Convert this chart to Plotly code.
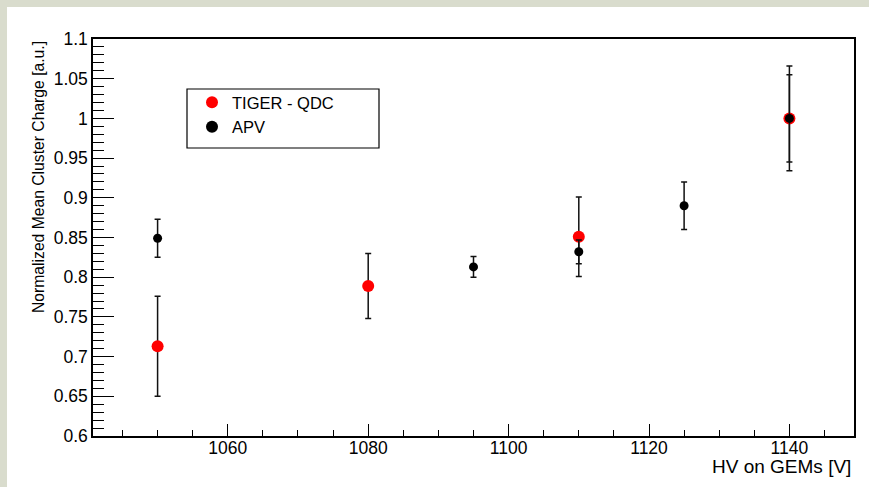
import plotly.graph_objects as go

# ---- data ----
tiger_hv = [1050, 1080, 1110, 1140]
tiger_q = [0.713, 0.789, 0.851, 1.000]
tiger_err = [0.063, 0.041, 0.050, 0.066]

apv_hv = [1050, 1095, 1110, 1125, 1140]
apv_q = [0.849, 0.813, 0.832, 0.890, 1.000]
apv_err = [0.024, 0.013, 0.015, 0.030, 0.055]

y_ticks = [0.6, 0.65, 0.7, 0.75, 0.8, 0.85, 0.9, 0.95, 1.0, 1.05, 1.1]
y_tick_labels = ["0.6", "0.65", "0.7", "0.75", "0.8", "0.85", "0.9", "0.95", "1", "1.05", "1.1"]
x_ticks = [1060, 1080, 1100, 1120, 1140]
x_tick_labels = ["1060", "1080", "1100", "1120", "1140"]

W, H = 869, 487
L, R, T, B = 93, 15, 39, 51
pw, ph = W - L - R, H - T - B

def px_x(p):
    return (p - L) / pw

def px_y(p):
    return (H - B - p) / ph

FONT = "Liberation Sans, Arial, Helvetica, sans-serif"

fig = go.Figure()
fig.add_trace(go.Scatter(
    x=tiger_hv, y=tiger_q, mode="markers", name="TIGER - QDC",
    marker=dict(color="#ff0000", size=12, symbol="circle"),
    error_y=dict(type="data", array=tiger_err, color="#111111", thickness=1.5, width=3),
))
fig.add_trace(go.Scatter(
    x=apv_hv, y=apv_q, mode="markers", name="APV",
    marker=dict(color="#000000", size=9, symbol="circle"),
    error_y=dict(type="data", array=apv_err, color="#111111", thickness=1.5, width=3),
))

axis_common = dict(showgrid=False, zeroline=False, showline=True, linecolor="black",
                   linewidth=1.5, mirror=True, ticks="inside", tickcolor="black",
                   tickwidth=1.2, tickfont=dict(family=FONT, size=17.5, color="black"))

fig.update_xaxes(range=[1040.8, 1149.2], tickmode="array", tickvals=x_ticks,
                 ticktext=x_tick_labels, ticklen=12, ticklabelstandoff=-5,
                 minor=dict(dtick=5, tick0=1000, ticklen=6, ticks="inside",
                            tickcolor="black", tickwidth=1.2),
                 **axis_common)
fig.update_yaxes(range=[0.6, 1.1], tickmode="array", tickvals=y_ticks,
                 ticktext=y_tick_labels, ticklen=21,
                 minor=dict(dtick=0.01, tick0=0, ticklen=11, ticks="inside",
                            tickcolor="black", tickwidth=1.2),
                 **axis_common)

shapes = [
    dict(type="rect", xref="paper", yref="paper", layer="below",
         x0=px_x(7), x1=px_x(W + 5), y0=px_y(H + 5), y1=px_y(7),
         fillcolor="white", line=dict(width=0)),
    dict(type="rect", xref="paper", yref="paper", layer="below",
         x0=px_x(187), x1=px_x(379), y0=px_y(148), y1=px_y(89),
         fillcolor="white", line=dict(color="black", width=1.2)),
]

annotations = [
    dict(text="Normalized Mean Cluster Charge [a.u.]", xref="paper", yref="paper",
         x=px_x(38), y=px_y(39), xanchor="center", yanchor="top", textangle=-90,
         showarrow=False, font=dict(family=FONT, size=15.7, color="black")),
    dict(text="HV on GEMs [V]", xref="paper", yref="paper",
         x=px_x(853), y=px_y(454), xanchor="right", yanchor="top",
         showarrow=False, font=dict(family=FONT, size=19, color="black")),
]

fig.update_layout(
    width=W, height=H,
    margin=dict(l=L, r=R, t=T, b=B, pad=0),
    paper_bgcolor="#d9dccd", plot_bgcolor="white",
    shapes=shapes, annotations=annotations,
    showlegend=True,
    legend=dict(x=px_x(192), y=px_y(85), xanchor="left", yanchor="top",
                bgcolor="rgba(0,0,0,0)", borderwidth=0,
                font=dict(family=FONT, size=16.5, color="black"),
                itemsizing="constant", tracegroupgap=0),
)

fig.write_html(
    "out.html",
    config={"displayModeBar": False},
    post_script="document.body.style.margin='0';document.body.style.background='#d9dccd';",
)
